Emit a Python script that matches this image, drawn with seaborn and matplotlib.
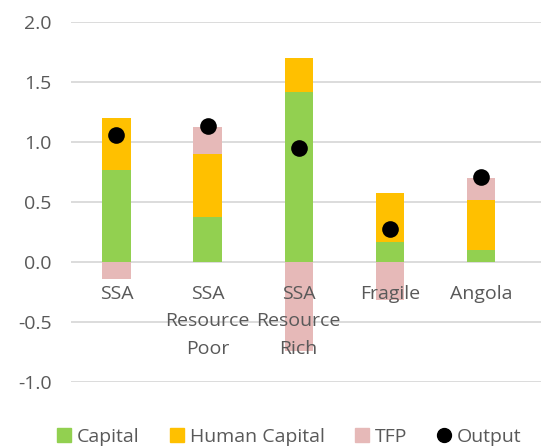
import numpy as np
import pandas as pd
import matplotlib
matplotlib.use("Agg")
import matplotlib.pyplot as plt
import seaborn as sns
from matplotlib.lines import Line2D
from matplotlib.patches import Patch

# data
regions = ["SSA", "SSA\nResource\nPoor", "SSA\nResource\nRich", "Fragile", "Angola"]
capital = [0.77, 0.38, 1.42, 0.17, 0.10]
human_capital = [0.43, 0.52, 0.28, 0.41, 0.42]
tfp = [-0.14, 0.23, -0.74, -0.31, 0.18]
output = [1.06, 1.14, 0.95, 0.28, 0.71]

c_cap = "#92D050"
c_hc = "#FFC000"
c_tfp = "#E6B9B8"
txt = "#595959"
fs = 14

sns.set_style("white")
plt.rcParams["font.family"] = ["Open Sans", "DejaVu Sans"]

df = pd.DataFrame({"region": regions, "capital": capital,
                   "hc": human_capital, "tfp": tfp, "output": output})
# stacked bars built by overlaying cumulative totals
df["pos_tfp"] = df["tfp"].clip(lower=0)
df["neg_tfp"] = df["tfp"].clip(upper=0)
df["lvl_hc"] = df["capital"] + df["hc"]
df["lvl_tfp"] = df["lvl_hc"] + df["pos_tfp"]

fig = plt.figure(figsize=(5.41, 4.47), dpi=100)
ax = fig.add_axes([0.131, 0.1443, 0.869, 0.8054])

w = 0.31
for col, c in [("lvl_tfp", c_tfp), ("neg_tfp", c_tfp), ("lvl_hc", c_hc), ("capital", c_cap)]:
    sns.barplot(data=df, x="region", y=col, order=regions, color=c,
                width=w, saturation=1, ax=ax, linewidth=0)
sns.stripplot(data=df, x="region", y="output", order=regions, color="black",
              jitter=False, size=12, linewidth=0, ax=ax, zorder=5)

ax.set_ylim(-1.0, 2.0)
ax.set_xlim(-0.5, 4.66)
yt = np.arange(-1.0, 2.01, 0.5)
ax.set_yticks(yt)
ax.set_yticklabels([f"{v:.1f}" for v in yt])
ax.yaxis.grid(True, color="#D9D9D9", linewidth=1.3)
ax.set_axisbelow(True)
ax.xaxis.set_zorder(6)  # category labels drawn over the bars, like the original
for s in ax.spines.values():
    s.set_visible(False)

# category labels sit just under the zero line
ax.spines["bottom"].set_position(("data", 0))
ax.tick_params(axis="x", length=0, pad=16, labelsize=fs, labelcolor=txt)
ax.tick_params(axis="y", length=0, pad=14, labelsize=fs, labelcolor=txt)
for lab in ax.get_xticklabels():
    lab.set_linespacing(1.68)
ax.set_xlabel("")
ax.set_ylabel("")

handles = [Patch(color=c_cap, label="Capital"),
           Patch(color=c_hc, label="Human Capital"),
           Patch(color=c_tfp, label="TFP"),
           Line2D([], [], marker="o", color="black", linestyle="none",
                  markersize=10, label="Output")]
leg = fig.legend(handles=handles, loc="center", bbox_to_anchor=(0.535, 0.023),
                 ncol=4, frameon=False, fontsize=fs, handlelength=0.72,
                 handleheight=0.72, handletextpad=0.3, columnspacing=1.55,
                 borderpad=0, borderaxespad=0)
for t in leg.get_texts():
    t.set_color(txt)

fig.savefig("out.png", dpi=100)
